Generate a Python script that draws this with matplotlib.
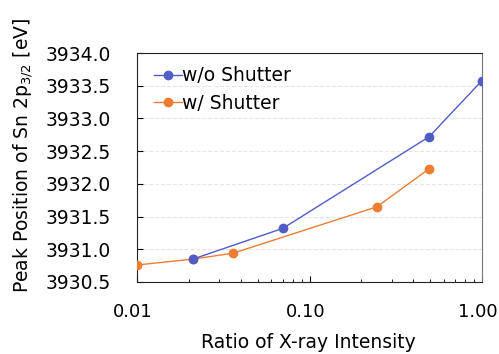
import matplotlib
matplotlib.use("Agg")
import matplotlib.pyplot as plt
import matplotlib.transforms as mtrans
from matplotlib.ticker import FixedLocator, FixedFormatter, LogLocator, NullFormatter

plt.rcParams.update({
    "font.family": "DejaVu Sans",
    "font.size": 13.5,
    "mathtext.fontset": "dejavusans",
})

# datos
RATIO_WO = [0.0211, 0.070, 0.493, 1.0]
PEAK_WO = [3930.85, 3931.32, 3932.72, 3933.58]
RATIO_W = [0.0100, 0.0211, 0.036, 0.246, 0.493]
PEAK_W = [3930.76, 3930.85, 3930.94, 3931.65, 3932.23]

XTICKS = [0.01, 0.1, 1.0]
XTICKLABELS = ["0.01", "0.10", "1.00"]
YTICKS = [3930.5, 3931.0, 3931.5, 3932.0, 3932.5, 3933.0, 3933.5, 3934.0]

BLUE = "#4f5dc4"
ORANGE = "#ed7d31"

fig = plt.figure(figsize=(4.99, 3.54), dpi=100)
ax = fig.add_axes([0.2745, 0.2034, 0.6915, 0.6466])

# azul encima del naranja (como en el original)
ax.plot(RATIO_WO, PEAK_WO, "-o", color=BLUE, lw=1.0, ms=6, label="w/o Shutter", zorder=4)
ax.plot(RATIO_W, PEAK_W, "-o", color=ORANGE, lw=1.0, ms=6, label="w/ Shutter", zorder=3)

ax.set_xscale("log")
ax.set_xlim(0.01, 1.0)
ax.set_ylim(3930.5, 3934.0)
ax.xaxis.set_major_locator(FixedLocator(XTICKS))
ax.xaxis.set_major_formatter(FixedFormatter(XTICKLABELS))
ax.xaxis.set_minor_locator(LogLocator(base=10, subs=range(2, 10)))
ax.xaxis.set_minor_formatter(NullFormatter())
ax.set_yticks(YTICKS)
ax.set_yticklabels([f"{v:.1f}" for v in YTICKS])
ax.tick_params(axis="x", which="major", direction="in", length=4, pad=15, labelsize=13)
ax.tick_params(axis="x", which="minor", direction="in", length=2.5)
ax.tick_params(axis="y", direction="in", length=4, pad=19)
ax.grid(axis="y", color="#e6e6e6", ls="--", lw=0.8)

# etiquetas del eje x un poco corridas a la izquierda (como en el original)
off = mtrans.ScaledTranslation(-4 / 100, 0, fig.dpi_scale_trans)
for lbl in ax.get_xticklabels():
    lbl.set_transform(lbl.get_transform() + off)

for s in ["top", "bottom", "left"]:
    ax.spines[s].set_color("#222222")
ax.spines["right"].set_color("#777777")

ax.set_xlabel("Ratio of X-ray Intensity", va="center")
ax.xaxis.set_label_coords(0.497, -0.265)
ax.set_ylabel("Peak Position of Sn 2p$_{3/2}$ [eV]", va="center")
ax.yaxis.set_label_coords(-0.33, 0.555)

ax.legend(loc="upper left", bbox_to_anchor=(0.027, 0.976), frameon=False,
          fontsize=13.5, handlelength=1.5, handletextpad=0.0,
          borderaxespad=0.0, labelspacing=0.45)

fig.savefig("out.png", dpi=100)
